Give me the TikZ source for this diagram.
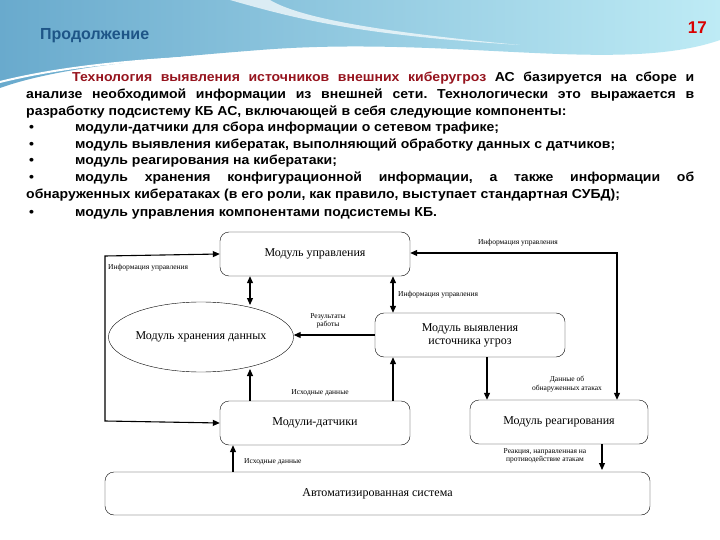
\documentclass[tikz,border=0pt]{standalone}
\usepackage{fontspec}
\setmainfont{Liberation Serif}
\newfontfamily\arialf{Liberation Sans}
\newfontfamily\arialw[FakeStretch=1.08]{Liberation Sans}
\usetikzlibrary{arrows.meta,shapes.geometric,shadings}
\definecolor{titleblue}{RGB}{30,85,135}
\definecolor{darkred}{RGB}{150,20,30}
\definecolor{wave1}{RGB}{105,170,205}
\definecolor{wave2}{RGB}{190,235,245}
\frenchspacing
\begin{document}
\begin{tikzpicture}[x=1pt,y=-1pt,
  box/.style={draw,rounded corners=9pt,thin,minimum width=#1,minimum height=44pt,inner sep=0pt,font=\fontsize{12}{13}\selectfont,align=center},
  lbl/.style={font=\fontsize{7.5}{8.5}\selectfont,align=center,inner sep=1pt},
  arr/.style={-{Triangle[length=7pt,width=6pt]},line width=1.1pt},
  darr/.style={{Triangle[length=7pt,width=6pt]}-{Triangle[length=7pt,width=6pt]},line width=1.1pt},
  txt/.style={anchor=base west,inner sep=0pt,font=\arialw\bfseries\fontsize{13}{15}\selectfont}]
\useasboundingbox (0,0) rectangle (720,540);
\fill[white] (0,0) rectangle (720,540);
% header wave
\shade[left color=wave1,right color=wave2] (0,0)--(720,0)--(720,40) .. controls (620,75) and (450,35) .. (260,50) .. controls (130,60) and (50,70) .. (0,88) -- cycle;
\fill[white,opacity=0.7] (230,0) .. controls (300,20) and (360,35) .. (520,45) .. controls (380,32) and (300,18) .. (270,0) -- cycle;
\draw[white,line width=2pt] (0,82) .. controls (80,62) and (200,52) .. (380,55);
\node[anchor=base west,inner sep=0pt,text=titleblue,font=\arialf\bfseries\fontsize{16}{18}\selectfont] (title) at (40,40) {Продолжение};
\node[anchor=base east,inner sep=0pt,text=red!85!black,font=\arialf\bfseries\fontsize{17}{19}\selectfont] (num) at (707,34) {17};
% text
\node[txt] (l1) at (72,82) {\makebox[622pt][s]{\textcolor{darkred}{Технология выявления источников внешних киберугроз} АС базируется на сборе и}};
\node[txt] (l2) at (26,99) {\makebox[668pt][s]{анализе необходимой информации из внешней сети. Технологически это выражается в}};
\node[txt] (l3) at (26,115.5) {разработку подсистему КБ АС, включающей в себя следующие компоненты:};
\node[txt] (b1) at (29,132) {•}; \node[txt] (l4) at (75,132) {модули-датчики для сбора информации о сетевом трафике;};
\node[txt] (b2) at (29,148.5) {•}; \node[txt] (l5) at (75,148.5) {модуль выявления кибератак, выполняющий обработку данных с датчиков;};
\node[txt] (b3) at (29,165) {•}; \node[txt] (l6) at (75,165) {модуль реагирования на кибератаки;};
\node[txt] (b4) at (29,182) {•}; \node[txt] (l7) at (75,182) {\makebox[619pt][s]{модуль хранения конфигурационной информации, а также информации об}};
\node[txt] (l8) at (26,199) {обнаруженных кибератаках (в его роли, как правило, выступает стандартная СУБД);};
\node[txt] (b5) at (29,216) {•}; \node[txt] (l9) at (75,216) {модуль управления компонентами подсистемы КБ.};
% diagram
\node[box=190pt] (upr) at (315,254) {Модуль управления};
\node[draw,ellipse,thin,minimum width=178pt,minimum height=70pt,inner sep=0pt,font=\fontsize{12}{13}\selectfont] (hr) at (201,337) {Модуль хранения данных};
\node[box=190pt] (vyy) at (470,335) {Модуль выявления\\источника угроз};
\node[box=190pt] (dat) at (315,423) {Модули-датчики};
\node[box=178pt] (rea) at (559,422) {Модуль реагирования};
\node[box=545pt,minimum height=43pt] (as) at (377.5,493.5) {Автоматизированная система};
\coordinate (c1) at (105,256); \coordinate (c2) at (105,421);
\draw[darr] (upr.west) -- (c1) -- (c2) -- (dat.west);
\node[lbl,anchor=west] (t1) at (107,268) {Информация управления};
\coordinate (e1) at (250,305); \coordinate (e2) at (250,369);
\draw[darr] (upr.south -| e1) -- (e1);
\draw[darr] (upr.south -| 393,0) -- (vyy.north -| 393,0);
\node[lbl,anchor=west] (t2) at (397,295) {Информация управления};
\draw[arr] (vyy.west) -- (hr.east |- vyy.west);
\node[lbl] (t3) at (328,321) {Результаты\\работы};
\draw[arr] (dat.north -| e2) -- (e2);
\draw[arr] (dat.north -| 393,0) -- (vyy.south -| 393,0);
\node[lbl] (t4) at (320,393) {Исходные данные};
\draw[arr] (vyy.south -| 487,0) -- (rea.north -| 487,0);
\node[lbl] (t5) at (567,384) {Данные об\\обнаруженных атаках};
\coordinate (c3) at (617,253);
\draw[darr] (upr.east |- c3) -- (c3) -- (rea.north -| c3);
\node[lbl] (t6) at (518,243) {Информация управления};
\draw[arr] (rea.south -| 602,0) -- (602,470);
\node[lbl] (t7) at (545,456) {Реакция, направленная на\\противодействие атакам};
\draw[arr] (as.north -| 233,0) -- (dat.south -| 233,0);
\node[lbl,anchor=west] (t8) at (243,462) {Исходные данные};
\end{tikzpicture}
\end{document}
